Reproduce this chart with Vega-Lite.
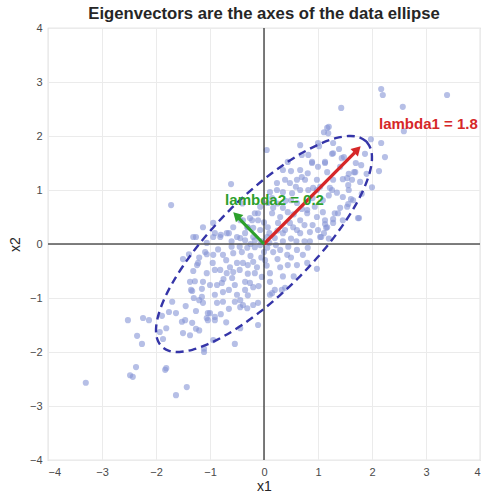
{
  "$schema": "https://vega.github.io/schema/vega-lite/v6.json",
  "width": 432,
  "height": 432,
  "autosize": {"type": "none"},
  "padding": {"left": 48, "top": 28, "right": 2, "bottom": 32},
  "background": "white",
  "title": {"text": "Eigenvectors are the axes of the data ellipse", "fontSize": 16.7, "fontWeight": "bold", "font": "Liberation Sans", "color": "#262626", "offset": -1, "anchor": "middle"},
  "config": {
    "view": {"stroke": "#d0d0d0", "strokeWidth": 1.2},
    "axis": {"labelFont": "Liberation Sans", "labelFontSize": 11, "labelColor": "#4a4a4a", "titleFont": "Liberation Sans", "titleFontSize": 14, "titleFontWeight": "normal", "titleColor": "#262626", "ticks": false, "domain": false, "gridColor": "#ebebeb", "gridWidth": 1, "labelPadding": 6}
  },
  "datasets": {
    "pts": [
      {"x":2.17,"y":2.87},{"x":2.20,"y":2.76},{"x":2.57,"y":2.54},{"x":3.39,"y":2.76},{"x":2.59,"y":2.09},{"x":1.43,"y":2.52},{"x":1.98,"y":1.94},{"x":2.17,"y":1.87},{"x":2.24,"y":1.61},{"x":2.13,"y":1.35},{"x":1.76,"y":0.48},{"x":1.17,"y":2.15},{"x":1.20,"y":2.17},{"x":1.11,"y":2.07},{"x":1.19,"y":2.05},{"x":1.28,"y":1.87},{"x":1.39,"y":1.76},{"x":1.44,"y":1.59},{"x":1.48,"y":1.61},{"x":1.26,"y":1.67},{"x":1.13,"y":1.52},{"x":1.70,"y":1.50},{"x":1.80,"y":1.46},{"x":1.87,"y":1.67},{"x":1.67,"y":1.33},{"x":1.57,"y":1.30},{"x":1.63,"y":1.19},{"x":1.46,"y":1.20},{"x":1.56,"y":1.09},{"x":1.57,"y":1.00},{"x":1.22,"y":1.04},{"x":1.81,"y":0.93},{"x":1.61,"y":0.83},{"x":1.56,"y":0.74},{"x":1.41,"y":0.67},{"x":1.09,"y":0.59},{"x":1.31,"y":0.57},{"x":1.28,"y":0.46},{"x":1.46,"y":0.44},{"x":1.13,"y":0.37},{"x":1.28,"y":0.39},{"x":1.15,"y":0.30},{"x":1.11,"y":0.20},{"x":1.06,"y":0.13},
      {"x":-2.52,"y":-1.41},{"x":-2.24,"y":-1.37},{"x":-2.13,"y":-1.41},{"x":-2.35,"y":-1.70},{"x":-2.26,"y":-1.85},{"x":-3.30,"y":-2.57},{"x":-2.48,"y":-2.43},{"x":-2.43,"y":-2.46},{"x":-2.37,"y":-2.28},{"x":-1.83,"y":-2.33},{"x":-1.81,"y":-2.30},{"x":-1.63,"y":-2.80},{"x":-1.43,"y":-2.65},{"x":-1.11,"y":-2.00},{"x":-1.11,"y":-1.94},{"x":-1.87,"y":-1.76},{"x":-1.81,"y":-1.56},{"x":-1.93,"y":-1.63},{"x":-1.89,"y":-1.33},{"x":-1.76,"y":-1.26},{"x":-1.70,"y":-1.07},{"x":-1.63,"y":-1.28},{"x":-1.52,"y":-1.44},{"x":-1.46,"y":-1.41},{"x":-1.33,"y":-1.46},{"x":-1.26,"y":-1.57},{"x":-1.50,"y":-1.65},{"x":-1.37,"y":-1.69},{"x":-1.26,"y":-1.24},{"x":-1.20,"y":-1.04},{"x":-1.13,"y":-1.09},{"x":-1.04,"y":-1.28},{"x":-1.04,"y":-1.41},{"x":-1.35,"y":-0.85},{"x":-1.33,"y":-0.87},{"x":-1.15,"y":-0.83},{"x":-1.37,"y":-0.70},{"x":-1.28,"y":-0.69},{"x":-1.13,"y":-0.70},{"x":-1.06,"y":-0.54},{"x":-1.31,"y":-0.50},{"x":-1.24,"y":-0.39},{"x":-1.22,"y":-0.35},{"x":-1.50,"y":-0.28},{"x":-1.39,"y":-0.19},{"x":-1.09,"y":-0.15},{"x":-1.06,"y":-0.19},{"x":-1.72,"y":0.72},{"x":-1.31,"y":0.13},{"x":-1.26,"y":0.13},
      {"x":0.05,"y":1.74},{"x":-0.61,"y":1.11},{"x":1.02,"y":1.81},{"x":0.82,"y":1.65},{"x":0.67,"y":1.37},{"x":0.89,"y":1.50},{"x":1.00,"y":1.43},{"x":0.70,"y":1.24},{"x":0.76,"y":1.19},{"x":0.59,"y":1.06},{"x":0.82,"y":1.00},{"x":0.91,"y":1.04},{"x":1.04,"y":1.06},{"x":0.39,"y":1.19},{"x":0.24,"y":1.00},{"x":0.50,"y":0.81},{"x":0.61,"y":0.76},{"x":0.35,"y":0.67},{"x":0.44,"y":0.59},{"x":0.17,"y":0.67},{"x":0.07,"y":0.76},{"x":-0.07,"y":0.69},{"x":-0.17,"y":0.57},{"x":-0.11,"y":0.44},{"x":-0.26,"y":0.48},{"x":-0.31,"y":0.31},{"x":-0.39,"y":0.44},{"x":-0.65,"y":0.20},{"x":-0.80,"y":0.17},{"x":-0.94,"y":0.39},{"x":-1.13,"y":0.31},{"x":-0.57,"y":0.31},{"x":-0.91,"y":0.20},{"x":0.26,"y":0.39},{"x":0.39,"y":0.26},{"x":0.54,"y":0.31},{"x":0.67,"y":0.44},{"x":0.80,"y":0.57},{"x":0.94,"y":0.69},{"x":1.09,"y":0.81},{"x":1.13,"y":0.44},{"x":1.00,"y":0.26},{"x":0.67,"y":0.20},{"x":0.20,"y":0.11},{"x":0.06,"y":0.13},{"x":-0.44,"y":0.11},{"x":-0.20,"y":0.13},{"x":0.67,"y":1.83},{"x":1.00,"y":1.87},{"x":0.44,"y":1.52},{"x":0.70,"y":1.65},{"x":0.89,"y":1.52},{"x":1.13,"y":1.50},{"x":1.28,"y":1.68},{"x":1.41,"y":1.43},{"x":1.69,"y":1.33},{"x":1.54,"y":1.22},{"x":1.78,"y":1.15},{"x":0.35,"y":1.37},{"x":0.81,"y":1.31},{"x":0.98,"y":1.19},{"x":1.17,"y":1.33},{"x":1.28,"y":1.19},{"x":0.61,"y":1.19},{"x":0.48,"y":1.13},{"x":0.24,"y":1.13},{"x":0.11,"y":0.96},{"x":0.35,"y":0.96},{"x":0.52,"y":0.94},{"x":0.67,"y":1.00},{"x":0.98,"y":1.00},{"x":1.26,"y":1.00},{"x":1.46,"y":0.87},{"x":1.65,"y":0.81},{"x":1.54,"y":0.69},{"x":1.74,"y":0.48},{"x":1.37,"y":0.57},{"x":1.17,"y":0.31},{"x":0.98,"y":0.50},{"x":0.80,"y":0.63},{"x":1.04,"y":0.13},{"x":0.85,"y":0.22},{"x":0.61,"y":0.26},{"x":0.48,"y":0.39},{"x":0.35,"y":0.20},{"x":0.30,"y":0.50},{"x":0.15,"y":0.57},{"x":0.07,"y":0.31},{"x":-0.11,"y":0.57},{"x":-0.22,"y":0.44},{"x":-0.30,"y":0.31},{"x":-0.44,"y":0.44},{"x":-0.07,"y":0.26},{"x":-0.17,"y":0.07},{"x":-0.35,"y":0.07},{"x":-0.50,"y":0.13},{"x":-0.69,"y":0.20},{"x":-0.81,"y":0.13},{"x":-0.94,"y":0.13},{"x":-1.06,"y":0.02},
      {"x":-0.94,"y":-0.20},{"x":-0.76,"y":-0.20},{"x":-0.57,"y":-0.17},{"x":-0.41,"y":-0.15},{"x":-0.31,"y":-0.07},{"x":-0.17,"y":-0.06},{"x":-0.07,"y":-0.02},{"x":0.06,"y":-0.07},{"x":0.17,"y":-0.15},{"x":0.30,"y":-0.11},{"x":0.43,"y":-0.20},{"x":0.61,"y":-0.11},{"x":0.81,"y":-0.07},{"x":0.98,"y":-0.46},{"x":0.61,"y":-0.39},{"x":0.44,"y":-0.39},{"x":0.30,"y":-0.43},{"x":0.11,"y":-0.54},{"x":0.11,"y":-0.70},{"x":0.20,"y":-0.85},{"x":0.33,"y":-0.85},{"x":0.39,"y":-0.81},{"x":0.15,"y":-0.91},{"x":-0.04,"y":-0.61},{"x":-0.17,"y":-0.54},{"x":-0.13,"y":-0.43},{"x":-0.20,"y":-0.33},{"x":-0.30,"y":-0.39},{"x":-0.39,"y":-0.35},{"x":-0.50,"y":-0.35},{"x":-0.63,"y":-0.43},{"x":-0.57,"y":-0.52},{"x":-0.69,"y":-0.54},{"x":-0.81,"y":-0.48},{"x":-0.91,"y":-0.48},{"x":-1.00,"y":-0.76},{"x":-0.87,"y":-0.76},{"x":-0.78,"y":-0.72},{"x":-0.59,"y":-0.63},{"x":-0.54,"y":-0.76},{"x":-0.35,"y":-0.70},{"x":-0.26,"y":-0.72},{"x":-0.20,"y":-0.80},{"x":-0.35,"y":-0.85},{"x":-0.50,"y":-0.94},{"x":-0.76,"y":-0.89},{"x":-0.91,"y":-0.94},{"x":-1.15,"y":-0.98},{"x":-0.87,"y":-1.09},{"x":-0.76,"y":-1.07},{"x":-0.54,"y":-1.07},{"x":-0.44,"y":-1.04},{"x":-0.39,"y":-1.13},{"x":-0.44,"y":-1.17},{"x":-0.20,"y":-1.13},{"x":-0.11,"y":-1.09},{"x":-0.31,"y":-1.19},{"x":-1.00,"y":-1.28},{"x":-1.06,"y":-1.37},{"x":-0.91,"y":-1.35},{"x":-0.91,"y":-1.41},{"x":-0.44,"y":-1.56},{"x":-0.11,"y":-1.50},{"x":-0.94,"y":-1.78},{"x":-0.54,"y":-1.85},{"x":0.11,"y":-0.94},
      {"x":-0.05,"y":0.05},{"x":0.10,"y":0.02},{"x":0.22,"y":-0.02},{"x":-0.25,"y":0.00},{"x":-0.45,"y":-0.05},{"x":-0.60,"y":-0.05},{"x":0.35,"y":0.05},{"x":0.50,"y":0.10},{"x":0.75,"y":0.05},{"x":0.90,"y":0.35},{"x":0.55,"y":0.55},{"x":0.40,"y":0.80},{"x":0.25,"y":0.75},{"x":0.00,"y":0.40},{"x":-0.05,"y":-0.25},{"x":-0.25,"y":-0.22},{"x":0.02,"y":-0.30},{"x":0.25,"y":-0.28},{"x":0.50,"y":-0.25},{"x":0.72,"y":-0.20},{"x":-0.70,"y":-0.30},{"x":-0.85,"y":-0.10},{"x":-0.95,"y":-0.35},{"x":-1.20,"y":-0.25},{"x":-0.45,"y":-0.48},{"x":-0.10,"y":-0.78},{"x":0.05,"y":-0.40},{"x":-0.60,"y":0.05},{"x":-0.35,"y":0.20},{"x":0.10,"y":0.20},{"x":0.45,"y":-0.05},{"x":0.60,"y":0.05},{"x":0.85,"y":0.05},{"x":0.75,"y":0.35},{"x":1.20,"y":0.90},{"x":0.90,"y":0.85},{"x":0.70,"y":0.65},{"x":0.15,"y":0.85},{"x":-0.20,"y":0.30},{"x":0.25,"y":0.25},{"x":-0.75,"y":-0.65},{"x":-0.65,"y":-0.85},{"x":-0.30,"y":-0.55},{"x":-1.30,"y":-1.00},{"x":-1.45,"y":-1.15},{"x":-0.65,"y":-1.20},{"x":-0.80,"y":-1.30},{"x":-0.70,"y":-1.45},{"x":-1.20,"y":-1.60},{"x":-0.30,"y":-0.95},{"x":0.00,"y":-0.15},{"x":0.35,"y":-0.60},{"x":0.55,"y":-0.60},{"x":0.80,"y":-0.35},{"x":1.20,"y":0.10},{"x":1.35,"y":0.95},{"x":0.50,"y":1.35},{"x":-0.40,"y":0.75},{"x":1.90,"y":1.30},{"x":2.00,"y":1.05}
    ],
    "ell": [
      {"i":0,"x":1.897,"y":1.897},{"i":1,"x":1.758,"y":1.978},{"i":2,"x":1.567,"y":1.999},{"i":3,"x":1.327,"y":1.959},{"i":4,"x":1.047,"y":1.859},{"i":5,"x":0.735,"y":1.703},{"i":6,"x":0.402,"y":1.496},{"i":7,"x":0.055,"y":1.243},{"i":8,"x":-0.293,"y":0.951},{"i":9,"x":-0.632,"y":0.632},{"i":10,"x":-0.951,"y":0.293},{"i":11,"x":-1.243,"y":-0.055},{"i":12,"x":-1.496,"y":-0.402},{"i":13,"x":-1.703,"y":-0.735},{"i":14,"x":-1.859,"y":-1.047},{"i":15,"x":-1.959,"y":-1.327},{"i":16,"x":-1.999,"y":-1.567},{"i":17,"x":-1.978,"y":-1.758},{"i":18,"x":-1.897,"y":-1.897},{"i":19,"x":-1.758,"y":-1.978},{"i":20,"x":-1.567,"y":-1.999},{"i":21,"x":-1.327,"y":-1.959},{"i":22,"x":-1.047,"y":-1.859},{"i":23,"x":-0.735,"y":-1.703},{"i":24,"x":-0.402,"y":-1.496},{"i":25,"x":-0.055,"y":-1.243},{"i":26,"x":0.293,"y":-0.951},{"i":27,"x":0.632,"y":-0.632},{"i":28,"x":0.951,"y":-0.293},{"i":29,"x":1.243,"y":0.055},{"i":30,"x":1.496,"y":0.402},{"i":31,"x":1.703,"y":0.735},{"i":32,"x":1.859,"y":1.047},{"i":33,"x":1.959,"y":1.327},{"i":34,"x":1.999,"y":1.567},{"i":35,"x":1.978,"y":1.758},{"i":36,"x":1.897,"y":1.897}
    ],
    "arrows": [
      {"name":"v1","x":0,"y":0,"xe":1.68,"ye":1.69,"hx":1.73,"hy":1.75,"angle":45,"color":"#d62728"},
      {"name":"v2","x":0,"y":0,"xe":-0.47,"ye":0.48,"hx":-0.51,"hy":0.53,"angle":-45,"color":"#2ca02c"}
    ],
    "labels": [
      {"text":"lambda1 = 1.8","x":2.13,"y":2.22,"color":"#d62728"},
      {"text":"lambda2 = 0.2","x":-0.72,"y":0.81,"color":"#2ca02c"}
    ]
  },
  "layer": [
    {
      "data": {"name": "pts"},
      "mark": {"type": "circle", "size": 38, "color": "#8595d6", "opacity": 0.6},
      "encoding": {
        "x": {"field": "x", "type": "quantitative", "title": "x1", "scale": {"domain": [-4, 4], "nice": false, "zero": false}, "axis": {"values": [-4,-3,-2,-1,0,1,2,3,4], "titlePadding": 2}},
        "y": {"field": "y", "type": "quantitative", "title": "x2", "scale": {"domain": [-4, 4], "nice": false, "zero": false}, "axis": {"values": [-4,-3,-2,-1,0,1,2,3,4], "titlePadding": 7}}
      }
    },
    {
      "data": {"values": [{"x": 0}]},
      "mark": {"type": "rule", "color": "#111111", "strokeWidth": 1.1},
      "encoding": {"x": {"field": "x", "type": "quantitative", "title": "x1"}}
    },
    {
      "data": {"values": [{"y": 0}]},
      "mark": {"type": "rule", "color": "#555555", "strokeWidth": 1.7},
      "encoding": {"y": {"field": "y", "type": "quantitative", "title": "x2"}}
    },
    {
      "data": {"name": "ell"},
      "mark": {"type": "line", "color": "#3535a8", "strokeWidth": 2.4, "strokeDash": [8, 5], "interpolate": "cardinal"},
      "encoding": {
        "x": {"field": "x", "type": "quantitative", "title": "x1"},
        "y": {"field": "y", "type": "quantitative", "title": "x2"},
        "order": {"field": "i", "type": "quantitative"}
      }
    },
    {
      "data": {"name": "arrows"},
      "mark": {"type": "rule", "strokeWidth": 3.2},
      "encoding": {
        "x": {"field": "x", "type": "quantitative", "title": "x1"},
        "y": {"field": "y", "type": "quantitative", "title": "x2"},
        "x2": {"field": "xe"},
        "y2": {"field": "ye"},
        "color": {"field": "color", "type": "nominal", "scale": null}
      }
    },
    {
      "data": {"name": "arrows"},
      "mark": {"type": "point", "shape": "triangle-up", "filled": true, "size": 110, "opacity": 1},
      "encoding": {
        "x": {"field": "hx", "type": "quantitative", "title": "x1"},
        "y": {"field": "hy", "type": "quantitative", "title": "x2"},
        "angle": {"field": "angle", "type": "quantitative", "scale": null},
        "color": {"field": "color", "type": "nominal", "scale": null}
      }
    },
    {
      "data": {"name": "labels"},
      "mark": {"type": "text", "align": "left", "baseline": "middle", "font": "Liberation Sans", "fontSize": 15, "fontWeight": "bold"},
      "encoding": {
        "x": {"field": "x", "type": "quantitative", "title": "x1"},
        "y": {"field": "y", "type": "quantitative", "title": "x2"},
        "text": {"field": "text"},
        "color": {"field": "color", "type": "nominal", "scale": null}
      }
    }
  ]
}
